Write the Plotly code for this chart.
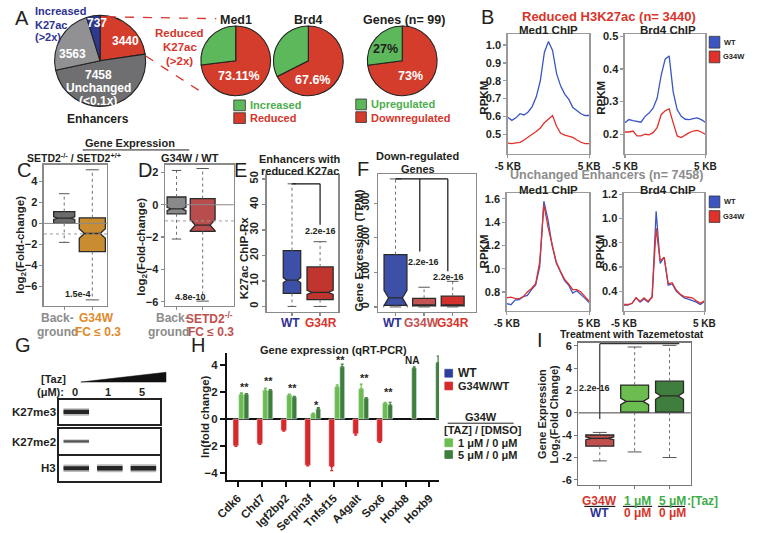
import plotly.graph_objects as go

# ===================== DATA =====================
# A: pies
enh_labels = ["Reduced K27ac (>2x)", "Unchanged (<0.1x)", "Other", "Increased K27ac (>2x)"]
enh_values = [3440, 7458, 3563, 737]
pie_labels = ["Reduced", "Increased"]
med1_values = [73.11, 26.89]
brd4_values = [67.6, 32.4]
genes_labels = ["Downregulated", "Upregulated"]
genes_values = [73, 27]

# B: ChIP profiles (RPKM vs distance in KB)
kb = [-5.0, -4.5, -4.0, -3.5, -3.0, -2.5, -2.0, -1.5, -1.0, -0.5, 0.0,
      0.5, 1.0, 1.5, 2.0, 2.5, 3.0, 3.5, 4.0, 4.5, 5.0]
red_med1_wt = [0.595, 0.578, 0.592, 0.615, 0.608, 0.625, 0.655, 0.71, 0.80, 0.96, 1.02,
               0.97, 0.84, 0.77, 0.725, 0.695, 0.65, 0.63, 0.615, 0.605, 0.605]
red_med1_g34w = [0.45, 0.447, 0.452, 0.455, 0.468, 0.482, 0.50, 0.515, 0.535, 0.565, 0.585,
                 0.605, 0.545, 0.505, 0.495, 0.487, 0.482, 0.468, 0.455, 0.447, 0.447]
red_brd4_wt = [0.235, 0.245, 0.242, 0.24, 0.237, 0.255, 0.265, 0.28, 0.31, 0.38, 0.43,
               0.44, 0.33, 0.275, 0.255, 0.246, 0.245, 0.248, 0.25, 0.245, 0.237]
red_brd4_g34w = [0.207, 0.207, 0.21, 0.195, 0.195, 0.2, 0.198, 0.205, 0.22, 0.26, 0.272,
                 0.278, 0.235, 0.195, 0.19, 0.198, 0.205, 0.21, 0.212, 0.207, 0.2]
unch_med1_wt = [0.70, 0.69, 0.73, 0.735, 0.76, 0.77, 0.82, 0.86, 1.02, 1.58, 1.42,
                1.2, 1.05, 0.97, 0.9, 0.86, 0.79, 0.81, 0.78, 0.745, 0.71]
unch_med1_g34w = [0.75, 0.755, 0.745, 0.74, 0.76, 0.80, 0.83, 0.87, 1.06, 1.55, 1.36,
                  1.2, 1.06, 0.98, 0.91, 0.87, 0.82, 0.82, 0.80, 0.76, 0.72]
unch_brd4_wt = [0.285, 0.285, 0.30, 0.345, 0.31, 0.335, 0.31, 0.35, 1.06, 0.63, 0.68,
                0.45, 0.46, 0.40, 0.37, 0.345, 0.335, 0.325, 0.31, 0.29, 0.315]
unch_brd4_g34w = [0.29, 0.29, 0.30, 0.345, 0.315, 0.345, 0.315, 0.355, 0.92, 0.65, 0.68,
                  0.46, 0.47, 0.41, 0.375, 0.355, 0.35, 0.345, 0.32, 0.30, 0.32]

# C: log2 fold change, SETD2-/- vs SETD2+/+
c_groups = ["Background", "G34W FC <= 0.3"]
c_lo = [-1.8, -7.26]
c_q1 = [0.0, -2.67]
c_med = [0.5, -0.96]
c_q3 = [1.12, 0.53]
c_hi = [2.82, 5.09]
c_notch = [0.12, 0.45]
c_p = "1.5e-4"

# D: log2 fold change, G34W vs WT
d_groups = ["Background", "SETD2-/- FC <= 0.3"]
d_lo = [-2.12, -5.96]
d_q1 = [-0.56, -1.65]
d_med = [-0.26, -1.26]
d_q3 = [0.48, 0.38]
d_hi = [2.12, 2.24]
d_notch = [0.1, 0.35]
d_p = "4.8e-10"

# E: K27ac ChIP-Rx at enhancers with reduced K27ac
e_groups = ["WT", "G34R"]
e_lo = [0, 0]
e_q1 = [5.1, 2.7]
e_med = [10.3, 5.5]
e_q3 = [21.9, 15.5]
e_hi = [48.1, 25.4]
e_notch = [1.0, 0.8]
e_p = "2.2e-16"

# F: expression (TPM) of down-regulated genes
f_groups = ["WT", "G34W", "G34R"]
f_lo = [0, 0, 0]
f_q1 = [4.7, 2.8, 2.8]
f_med = [26, 4.7, 4.7]
f_q3 = [151, 25, 31]
f_hi = [370, 57, 74]
f_notch = [22, 2, 2]
f_p = ["2.2e-16", "2.2e-16"]

# G: western blot band intensities (lanes: Taz 0, 1, 5 uM)
g_lanes = ["0", "1", "5"]
g_rows = ["K27me3", "K27me2", "H3"]
g_k27me3 = [1.0, 0.0, 0.0]
g_k27me2 = [0.55, 0.0, 0.0]
g_h3 = [1.0, 1.05, 1.05]

# H: qRT-PCR ln(fold change)
h_genes = ["Cdk6", "Chd7", "Igf2bp2", "Serpin3f", "Tnfsf15", "A4galt", "Sox6", "Hoxb8", "Hoxb9"]
h_g34w_wt = [-2.0, -1.85, -0.85, -3.45, -3.55, -1.1, -1.7, None, None]
h_g34w_wt_err = [0.05, 0.05, 0.05, 0.05, 0.3, 0.1, 0.05, 0, 0]
h_taz1 = [1.85, 2.15, 1.8, 0.4, 2.4, 2.25, 1.2, None, None]
h_taz1_err = [0.1, 0.15, 0.05, 0.05, 0.15, 0.35, 0.05, 0, 0]
h_taz5 = [1.85, 2.15, 1.65, 0.75, 3.9, 1.55, 1.05, 3.8, 4.2]
h_taz5_err = [0.05, 0.05, 0.05, 0.1, 0.2, 0.05, 0.2, 0.1, 0.5]
h_sig = ["**", "**", "**", "*", "**", "**", "**", "NA", "NA"]
h_sig_y = [2.39, 2.87, 2.31, 1.05, 4.4, 3.04, 2.02, 4.4, 5.15]

# I: log2 fold change with Tazemetostat
i_groups = ["G34W/WT", "1 uM/0 uM", "5 uM/0 uM"]
i_lo = [-4.3, -3.5, -4.0]
i_q1 = [-2.98, 0.06, 0.06]
i_med = [-2.28, 1.03, 1.52]
i_q3 = [-1.98, 2.49, 2.84]
i_hi = [-1.75, 5.9, 6.05]
i_notch = [0.12, 0.3, 0.3]
i_p = "2.2e-16"
i_ticks = [-6, -4, -2, 0, 2, 4, 6]
i_ticktext = ["-6", "-2", "-4", "0", "2", "4", "6"]

# ===================== STYLE / LAYOUT =====================
W, H = 757, 533
FONT = "Liberation Sans, Arial, Helvetica, sans-serif"
DARK = "#231f20"
BLUE_T = "#2e3192"
RED_T = "#d7352b"
GREEN_T = "#4cae4c"
GRAY_T = "#8c8c8c"
LG = "#6cbd4f"
DG = "#3f7e3d"
PIE_G = "#5db75b"
PIE_R = "#d43c2c"


def PX(x):
    return x / W


def PY(y):
    return 1 - y / H


def xd(a, b):
    return [a / W, b / W]


def yd(a, b):
    return [1 - b / H, 1 - a / H]


def axid(n):
    return ("x", "y") if n == 1 else (f"x{n}", f"y{n}")


fig = go.Figure()
ann, shapes, axes = [], [], {}


def text(x, y, s, size=11, color=DARK, bold=True, xanchor="center", angle=0):
    ann.append(dict(x=PX(x), y=PY(y), xref="paper", yref="paper", text=s, showarrow=False,
                    xanchor=xanchor, yanchor="middle", textangle=angle,
                    font=dict(family=FONT, size=size, color=color,
                              weight="bold" if bold else "normal")))


def rect(x0, y0, x1, y1, color, lc="#333"):
    shapes.append(dict(type="rect", xref="paper", yref="paper", x0=PX(x0), x1=PX(x1),
                       y0=PY(y1), y1=PY(y0), fillcolor=color, line=dict(color=lc, width=0.8)))


def pline(x0, y0, x1, y1, color, width=1.0, dash="solid"):
    shapes.append(dict(type="line", xref="paper", yref="paper", x0=PX(x0), y0=PY(y0),
                       x1=PX(x1), y1=PY(y1), line=dict(color=color, width=width, dash=dash)))


def dline(n, x0, y0, x1, y1, color="#111", width=1.2, dash="solid", xdomain=False):
    xa, ya = axid(n)
    shapes.append(dict(type="line", xref=(xa + " domain") if xdomain else xa, yref=ya,
                       x0=x0, x1=x1, y0=y0, y1=y1, line=dict(color=color, width=width, dash=dash)))


def set_axes(n, xdom, ydom, xa, ya):
    s = "" if n == 1 else str(n)
    axes[f"xaxis{s}"] = dict(domain=xdom, anchor=f"y{s}", **xa)
    axes[f"yaxis{s}"] = dict(domain=ydom, anchor=f"x{s}", **ya)


TF = dict(family=FONT, size=11, color=DARK, weight="bold")
TF10 = dict(family=FONT, size=10, color=DARK, weight="bold")


def frame(lc="#9a9a9a", **kw):
    d = dict(showline=True, mirror=True, linecolor=lc, linewidth=1.5, showgrid=False,
             zeroline=False, ticks="outside", ticklen=3, tickwidth=1.2, tickcolor=lc, tickfont=TF)
    d.update(kw)
    return d


# ---------- A: pies ----------
pie_line = dict(color="#222", width=1.1)
fig.add_trace(go.Pie(labels=enh_labels, values=enh_values, sort=False, direction="clockwise",
                     rotation=0, textinfo="none", hoverinfo="skip", showlegend=False,
                     marker=dict(colors=[PIE_R, "#6f6f71", "#919193", "#2b3990"], line=pie_line),
                     domain=dict(x=xd(43, 137), y=yd(10, 104))))
for vals, labs, (x0, x1) in [(med1_values, pie_labels, (194, 266)),
                             (brd4_values, pie_labels, (269, 341)),
                             (genes_values, genes_labels, (366, 438))]:
    fig.add_trace(go.Pie(labels=labs, values=vals, sort=False, direction="clockwise", rotation=0,
                         textinfo="none", hoverinfo="skip", showlegend=False,
                         marker=dict(colors=[PIE_R, PIE_G], line=pie_line),
                         domain=dict(x=xd(x0, x1), y=yd(21, 93))))

text(9, 13, "A", 20, DARK, bold=False)
for yy, s in [(6, "Increased"), (20, "K27ac"), (33, "(>2x)")]:
    text(21, yy, s, 11, BLUE_T, xanchor="left")
text(87, 18, f"{enh_values[3]}", 12, "white")
text(116, 37, f"{enh_values[0]}", 12, "white")
text(61, 50, f"{enh_values[2]}", 12, "white")
text(88, 71, f"{enh_values[1]}", 12, "white")
text(88, 85, "Unchanged", 12, "white")
text(88, 98, "(<0.1x)", 12, "white")
text(88, 116, "Enhancers", 12, DARK)
for yy, s in [(29, "Reduced"), (43, "K27ac"), (57, "(>2x)")]:
    text(172, yy, s, 11.5, RED_T)
pline(97, 12, 210, 14, RED_T, 1.3, "dash")
pline(137, 52, 198, 91, RED_T, 1.3, "dash")

text(230, 15, "Med1", 12.5, DARK)
text(305, 15, "Brd4", 12.5, DARK)
text(404, 15, "Genes (n= 99)", 12.5, DARK)
text(233, 73, f"{med1_values[0]:.2f}%", 12.5, "white")
text(309, 77, f"{brd4_values[0]}%", 12.5, "white")
text(385, 45, f"{genes_values[1]}%", 12.5, DARK)
text(411, 73, f"{genes_values[0]}%", 12.5, "white")
rect(228, 97, 240, 108, PIE_G)
rect(228, 110, 240, 121, PIE_R)
text(243, 102, "Increased", 11, GREEN_T, xanchor="left")
text(243, 115, "Reduced", 11, RED_T, xanchor="left")
rect(354, 96, 365, 107, PIE_G)
rect(354, 109, 365, 120, PIE_R)
text(368, 101, "Upregulated", 11, GREEN_T, xanchor="left")
text(368, 115, "Downregulated", 11, RED_T, xanchor="left")

# ---------- B: profiles ----------
for n, wt, mut in [(1, red_med1_wt, red_med1_g34w), (2, red_brd4_wt, red_brd4_g34w),
                   (3, unch_med1_wt, unch_med1_g34w), (4, unch_brd4_wt, unch_brd4_g34w)]:
    xa, ya = axid(n)
    fig.add_trace(go.Scatter(x=kb, y=wt, mode="lines", line=dict(color="#3b55c4", width=1.3),
                             xaxis=xa, yaxis=ya, showlegend=False, hoverinfo="skip"))
    fig.add_trace(go.Scatter(x=kb, y=mut, mode="lines", line=dict(color="#e0312b", width=1.3),
                             xaxis=xa, yaxis=ya, showlegend=False, hoverinfo="skip"))

kbx = dict(range=[-5, 5], tickvals=[-5, 5], ticktext=["-5 KB", "5 KB"], tickfont=TF10)
set_axes(1, xd(511, 595), yd(30, 152), frame(**kbx),
         frame(range=[0.39, 1.06], tickvals=[0.5, 0.6, 0.7, 0.8, 0.9, 1.0], tickformat=".1f"))
set_axes(2, xd(632, 715), yd(30, 152), frame(**kbx),
         frame(range=[0.14, 0.506], tickvals=[0.2, 0.3, 0.4, 0.5], tickformat=".1f"))
set_axes(3, xd(510, 595), yd(192, 312), frame(**kbx),
         frame(range=[0.64, 1.65], tickvals=[0.8, 1.0, 1.2, 1.4, 1.6], tickformat=".1f"))
set_axes(4, xd(631, 714), yd(192, 312), frame(**kbx),
         frame(range=[0.24, 1.21], tickvals=[0.4, 0.6, 0.8, 1.0, 1.2], tickformat=".1f"))

text(490, 12, "B", 20, DARK, bold=False)
text(615, 12, "Reduced H3K27ac (n= 3440)", 13, RED_T)
text(553, 26, "Med1 ChIP", 11.5, DARK)
text(676, 26, "Brd4 ChIP", 11.5, DARK)
text(613, 174, "Unchanged Enhancers (n= 7458)", 12.5, GRAY_T)
text(553, 189, "Med1 ChIP", 11.5, DARK)
text(676, 189, "Brd4 ChIP", 11.5, DARK)
for x, y in [(486, 95), (607, 95), (486, 252), (606, 252)]:
    text(x, y, "RPKM", 11.5, DARK, angle=-90)
for y0 in [32, 195]:
    rect(719, y0, 730, y0 + 12, "#3b55c4")
    rect(719, y0 + 15, 730, y0 + 27, "#e0312b")
    text(732, y0 + 6, "WT", 7.5, DARK, xanchor="left")
    text(731, y0 + 21, "G34W", 7.5, DARK, xanchor="left")


# ---------- box helper ----------
def add_boxes(n, names, lo, q1, med, q3, hi, notch, colors, widths):
    xa, ya = axid(n)
    for i in range(len(names)):
        w = widths[i]
        fig.add_trace(go.Box(x=[i], q1=[q1[i]], median=[med[i]], q3=[q3[i]],
                             lowerfence=[q1[i]], upperfence=[q3[i]], notched=True,
                             notchspan=[notch[i]], notchwidth=0.2, width=w,
                             fillcolor=colors[i], line=dict(color="#2a2a2a", width=1.3),
                             whiskerwidth=0, boxpoints=False, name=names[i], xaxis=xa, yaxis=ya,
                             showlegend=False, hoverinfo="skip"))
        fig.add_trace(go.Scatter(x=[i, i, None, i, i], y=[q3[i], hi[i], None, q1[i], lo[i]],
                                 mode="lines", line=dict(color="#707070", width=1, dash="dot"),
                                 xaxis=xa, yaxis=ya, showlegend=False, hoverinfo="skip"))
        cw = w * 0.25
        fig.add_trace(go.Scatter(x=[i - cw, i + cw, None, i - cw, i + cw],
                                 y=[hi[i], hi[i], None, lo[i], lo[i]], mode="lines",
                                 line=dict(color="#555", width=1), xaxis=xa, yaxis=ya,
                                 showlegend=False, hoverinfo="skip"))


# ---------- C ----------
dline(5, 0, 0, 1, 0, "#8a8a8a", 1, xdomain=True)
dline(5, 0, -1, 1, -1, "#9a9a9a", 1, "dot", xdomain=True)
add_boxes(5, c_groups, c_lo, c_q1, c_med, c_q3, c_hi, c_notch, ["#6b6b6d", "#c98c30"], [0.75, 0.93])
set_axes(5, xd(32, 97), yd(163, 307),
         frame("#8a8a8a", range=[-0.72, 1.52], tickvals=[0, 1], showticklabels=False),
         frame("#8a8a8a", range=[-7.81, 5.58], tickvals=[-6, -4, -2, 0, 2, 4]))
text(121, 141, "Gene Expression", 11, DARK)
pline(72, 148, 182, 148, DARK, 1)
text(63, 156, "SETD2<sup>-/-</sup> / SETD2<sup>+/+</sup>", 10.5, DARK)
text(183, 156, "G34W / WT", 11, DARK)
text(11, 168, "C", 20, DARK, bold=False)
text(8, 245, "log<sub>2</sub>(Fold-change)", 11.5, DARK, angle=-90)
text(67, 295, c_p, 9, DARK)
text(46, 320, "Back-", 12, GRAY_T)
text(46, 334, "ground", 12, GRAY_T)
text(86, 320, "G34W", 12, "#e08a2a")
text(88, 334, "FC ≤ 0.3", 12, "#e08a2a")

# ---------- D ----------
dline(6, 0, 0, 1, 0, "#8a8a8a", 1, xdomain=True)
dline(6, 0, -1, 1, -1, "#9a9a9a", 1, "dot", xdomain=True)
add_boxes(6, d_groups, d_lo, d_q1, d_med, d_q3, d_hi, d_notch, ["#8a8a8c", "#b94d4d"], [0.72, 0.95])
set_axes(6, xd(157, 228), yd(163, 307),
         frame("#8a8a8a", range=[-0.44, 2.19], tickvals=[0, 1], showticklabels=False),
         frame("#8a8a8a", range=[-6.24, 2.48], tickvals=[-6, -4, -2, 0, 2]))
text(136, 168, "D", 20, DARK, bold=False)
text(133, 247, "log<sub>2</sub>(Fold-change)", 11.5, DARK, angle=-90)
text(183, 298, d_p, 9, DARK)
text(165, 320, "Back-", 12, GRAY_T)
text(161, 334, "ground", 12, GRAY_T)
text(203, 320, "SETD2<sup>-/-</sup>", 12, "#c0504d")
text(204, 334, "FC ≤ 0.3", 12, "#c0504d")

# ---------- E ----------
add_boxes(7, e_groups, e_lo, e_q1, e_med, e_q3, e_hi, e_notch, ["#3d50a8", "#c0362f"], [0.62, 0.93])
dline(7, 0, e_hi[0], 1, e_hi[0])
dline(7, 1, e_hi[0], 1, 32)
set_axes(7, xd(262, 336), yd(174, 313),
         frame("#8a8a8a", range=[-0.9, 1.65], tickvals=[0, 1], showticklabels=False),
         frame("#8a8a8a", range=[-2.0, 51.4], tickvals=[0, 10, 20, 30, 40, 50], tickangle=-90))
text(235, 168, "E", 20, DARK, bold=False)
text(296, 157, "Enhancers with", 11, DARK)
text(296, 170, "reduced K27ac", 11, DARK)
text(238, 258, "K27ac ChIP-Rx", 11.5, DARK, angle=-90)
text(318, 231, e_p, 9, DARK)
text(287, 325, "WT", 12, BLUE_T)
text(318, 325, "G34R", 12, RED_T)

# ---------- F ----------
add_boxes(8, f_groups, f_lo, f_q1, f_med, f_q3, f_hi, f_notch,
          ["#3d50a8", "#c45454", "#d3312c"], [0.8, 0.8, 0.8])
dline(8, 0, f_hi[0], 1.83, f_hi[0])
dline(8, 0.85, f_hi[0], 0.85, 160)
dline(8, 1.83, f_hi[0], 1.83, 103)
set_axes(8, xd(377, 478), yd(173, 313),
         frame("#8a8a8a", range=[-0.61, 2.81], tickvals=[0, 1, 2], showticklabels=False),
         frame("#8a8a8a", range=[-13.3, 383], tickvals=[0, 100, 200, 300], tickangle=-90))
text(361, 167, "F", 20, DARK, bold=False)
text(418, 154, "Down-regulated", 11, DARK)
text(418, 167, "Genes", 11, DARK)
text(357, 251, "Gene Exression (TPM)", 11.5, DARK, angle=-90)
text(424, 262, f_p[0], 9, DARK)
text(450, 278, f_p[1], 9, DARK)
text(392, 325, "WT", 12, BLUE_T)
text(422, 325, "G34W", 12, "#c0504d")
text(454, 325, "G34R", 12, RED_T)

# ---------- G: blots ----------
for n, vals, (y0, y1) in [(9, g_k27me3, (403, 428)), (10, g_k27me2, (433, 458)), (11, g_h3, (460, 486))]:
    xa, ya = axid(n)
    for i, v in enumerate(vals):
        if v > 0:
            for wmul, alpha in [(7.5, 0.3), (4.2, 0.92)]:
                fig.add_trace(go.Scatter(x=[i + 0.62, i + 1.38], y=[0, 0], mode="lines",
                                         line=dict(color=f"rgba(25,25,25,{alpha * min(v, 1) ** 0.5:.2f})",
                                                   width=wmul * v),
                                         xaxis=xa, yaxis=ya, showlegend=False, hoverinfo="skip"))
    blot = dict(showline=True, mirror=True, linecolor="#222", linewidth=2, showgrid=False,
                zeroline=False, showticklabels=False, ticks="")
    set_axes(n, xd(48, 152), yd(y0, y1), dict(range=[0.5, 3.5], **blot), dict(range=[-1, 1], **blot))
text(10, 347, "G", 20, DARK, bold=False)
text(42, 382, "[Taz]", 11, DARK)
text(39, 395, "(μM):", 11, DARK)
for s, x in zip(g_lanes, [64, 98, 133]):
    text(x, 395, s, 11, DARK)
for s, y in zip(g_rows, [416, 446, 473]):
    text(46, y, s, 11.5, DARK, xanchor="right")
shapes.append(dict(type="path", xref="paper", yref="paper",
                   path=f"M {PX(70)},{PY(385)} L {PX(158)},{PY(385)} L {PX(158)},{PY(375)} Z",
                   fillcolor="#111", line=dict(color="#111", width=0.5)))

# ---------- H: qRT-PCR bars ----------
xa, ya = axid(12)
zeros = [0] * len(h_genes)
fig.add_trace(go.Bar(x=h_genes, y=h_g34w_wt, offset=-0.2, width=0.24, marker_color="#d62a2a",
                     error_y=dict(type="data", symmetric=False, array=zeros, arrayminus=h_g34w_wt_err,
                                  color="#d62a2a", thickness=1.2, width=1.5),
                     xaxis=xa, yaxis=ya, showlegend=False, hoverinfo="skip"))
fig.add_trace(go.Bar(x=h_genes, y=h_taz1, offset=0.04, width=0.22, marker_color=LG,
                     error_y=dict(type="data", symmetric=False, array=h_taz1_err, arrayminus=zeros,
                                  color=LG, thickness=1.2, width=1.5),
                     xaxis=xa, yaxis=ya, showlegend=False, hoverinfo="skip"))
fig.add_trace(go.Bar(x=h_genes, y=h_taz5, offset=0.26, width=0.2, marker_color=DG,
                     error_y=dict(type="data", symmetric=False, array=h_taz5_err, arrayminus=zeros,
                                  color=DG, thickness=1.2, width=1.5),
                     xaxis=xa, yaxis=ya, showlegend=False, hoverinfo="skip"))
for i, (s, yv) in enumerate(zip(h_sig, h_sig_y)):
    ann.append(dict(x=i + 0.27, y=yv, xref=xa, yref=ya, text=s, showarrow=False,
                    font=dict(family=FONT, size=10 if s == "NA" else 11, color=DARK, weight="bold")))
hx = dict(range=[-0.45, 8.4], type="category", tickangle=-45, ticks="outside", ticklen=5,
          tickwidth=2, tickcolor="#111", showline=True, linecolor="#111", linewidth=2,
          showgrid=False, zeroline=False, tickfont=dict(family=FONT, size=11.5, color=DARK, weight="bold"))
hy = dict(range=[-4.55, 4.95], tickvals=[-4, -2, 0, 2, 4], ticks="outside", ticklen=5, tickwidth=2,
          tickcolor="#111", showline=True, linecolor="#111", linewidth=2, showgrid=False,
          zeroline=True, zerolinecolor="#111", zerolinewidth=2.5,
          tickfont=dict(family=FONT, size=11.5, color=DARK, weight="bold"))
set_axes(12, xd(221, 440), yd(355, 485), hx, hy)
text(191, 347, "H", 20, DARK, bold=False)
text(331, 352, "Gene expression (qRT-PCR)", 11, DARK)
text(199, 420, "ln(fold change)", 11.5, DARK, angle=-90)
rect(446, 372, 454, 380, "#2f3f9e", lc="#2f3f9e")
text(457, 376, "WT", 12, DARK, xanchor="left")
rect(446, 385, 454, 393, "#d62a2a", lc="#d62a2a")
text(457, 389, "G34W/WT", 11, DARK, xanchor="left")
text(483, 421, "G34W", 11, DARK)
pline(449, 427, 517, 427, DARK, 1)
text(485, 434, "[TAZ] / [DMSO]", 11, DARK)
rect(446, 443, 454, 451, LG, lc=LG)
text(458, 447, "1 μM / 0 μM", 11, DARK, xanchor="left")
rect(446, 455, 454, 463, DG, lc=DG)
text(458, 459, "5 μM / 0 μM", 11, DARK, xanchor="left")

# ---------- I ----------
dline(13, 0, 0, 1, 0, "#444", 1, xdomain=True)
add_boxes(13, i_groups, i_lo, i_q1, i_med, i_q3, i_hi, i_notch, ["#c0504d", LG, DG], [0.8, 0.8, 0.8])
dline(13, 0, -0.55, 0, 6.2, "#333", 1.2)
dline(13, 0, 6.2, 2.28, 6.2, "#333", 1.2)
set_axes(13, xd(584, 700), yd(345, 490),
         frame("#777", range=[-0.61, 2.61], tickvals=[0, 1, 2], showticklabels=False),
         frame("#777", range=[-6.45, 6.27], tickvals=i_ticks, ticktext=i_ticktext))
text(544, 342, "I", 20, DARK, bold=False)
text(639, 336, "Treatment with Tazemetostat", 10.5, DARK)
text(547, 418, "Gene Expression", 11, DARK, angle=-90)
text(560, 418, "Log<sub>2</sub>(Fold Change)", 11, DARK, angle=-90)
text(601, 391, i_p, 9, DARK)
for x, top, tc in [(606, "G34W", RED_T), (645, "1 μM", "#3fae49"), (681, "5 μM", "#3fae49")]:
    text(x, 506, top, 12, tc)
for x0, x1 in [(590, 622), (630, 660), (666, 694)]:
    pline(x0, 512, x1, 512, DARK, 1.2)
text(606, 519, "WT", 12, BLUE_T)
text(645, 519, "0 μM", 12, RED_T)
text(681, 519, "0 μM", 12, RED_T)
text(712, 506, ":[Taz]", 12, "#3fae49")

fig.update_layout(width=W, height=H, margin=dict(l=0, r=0, t=0, b=0), autosize=False,
                  paper_bgcolor="white", plot_bgcolor="white", barmode="overlay",
                  boxmode="overlay", annotations=ann, shapes=shapes,
                  font=dict(family=FONT, color=DARK), **axes)
fig.write_html("out.html", config={"displayModeBar": False, "staticPlot": True},
               post_script="document.body.style.margin='0px';document.body.style.overflow='hidden';")
